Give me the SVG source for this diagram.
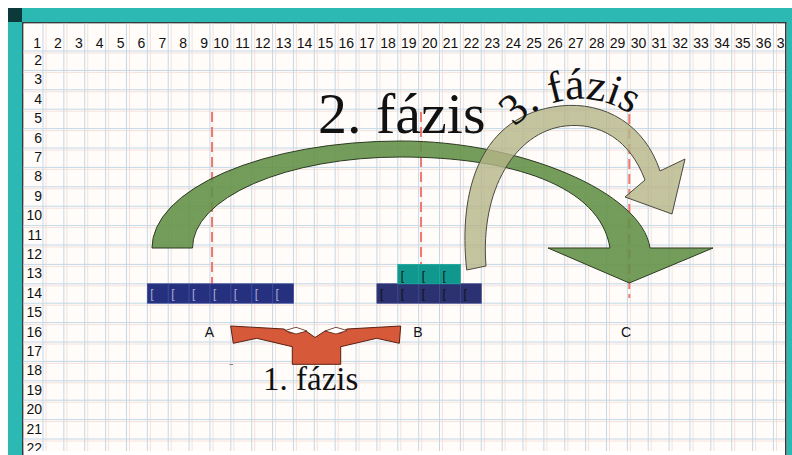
<svg xmlns="http://www.w3.org/2000/svg" width="792" height="455" viewBox="0 0 792 455">
<style>
.hdr{font-family:"Liberation Sans",Arial,sans-serif;font-size:14px;fill:#111;text-anchor:end}
.lbl{font-family:"Liberation Sans",Arial,sans-serif;font-size:14px;fill:#111;text-anchor:middle}
.brk{font-family:"Liberation Sans",Arial,sans-serif;font-size:12px}
.big{font-family:"Liberation Serif","Times New Roman",serif;fill:#111}
.dash{stroke:#ee7a70;stroke-width:2;stroke-dasharray:10 5;fill:none}
.gb{stroke:#c3d8e6;stroke-width:1;fill:none}
.gp{stroke:#f4e2da;stroke-width:1;fill:none}
</style>
<defs>
<clipPath id="sheet"><rect x="23.5" y="23.5" width="761.5" height="427.5"/></clipPath>
<path id="arc3" d="M502.9,143.5 A89,89 0 0 1 657.1,143.5"/>
</defs>
<!-- frame -->
<rect x="0" y="0" width="792" height="455" fill="#ffffff"/>
<rect x="8" y="8" width="784" height="14" fill="#2cb9b4"/>
<rect x="8" y="8" width="14" height="447" fill="#2cb9b4"/>
<rect x="786.5" y="8" width="5.5" height="447" fill="#2cb9b4"/>
<rect x="8" y="8" width="14" height="14" fill="#0c3a3a"/>
<rect x="22" y="22" width="764.5" height="1.5" fill="#3a3a3a"/>
<rect x="22" y="22" width="1.5" height="433" fill="#3a3a3a"/>
<rect x="785" y="22" width="1.5" height="433" fill="#3a3a3a"/>
<g id="grid" clip-path="url(#sheet)">
<rect x="23.5" y="23.5" width="761.5" height="427.5" fill="#fffcfa"/>
<path class="gp" d="M46,23V451M66.9,23V451M87.7,23V451M108.6,23V451M129.5,23V451M150.4,23V451M171.2,23V451M192.1,23V451M213,23V451M233.8,23V451M254.7,23V451M275.6,23V451M296.4,23V451M317.3,23V451M338.2,23V451M359,23V451M379.9,23V451M400.8,23V451M421.7,23V451M442.5,23V451M463.4,23V451M484.3,23V451M505.1,23V451M526,23V451M546.9,23V451M567.8,23V451M588.6,23V451M609.5,23V451M630.4,23V451M651.2,23V451M672.1,23V451M693,23V451M713.8,23V451M734.7,23V451M755.6,23V451M776.5,23V451"/>
<path class="gp" d="M23,53H785M23,72.4H785M23,91.8H785M23,111.2H785M23,130.6H785M23,150H785M23,169.4H785M23,188.8H785M23,208.2H785M23,227.6H785M23,247H785M23,266.4H785M23,285.8H785M23,305.2H785M23,324.6H785M23,344H785M23,363.4H785M23,382.8H785M23,402.2H785M23,421.6H785M23,441H785"/>
<path class="gb" d="M43,23V451M63.87,23V451M84.74,23V451M105.61,23V451M126.48,23V451M147.35,23V451M168.22,23V451M189.09,23V451M209.96,23V451M230.83,23V451M251.7,23V451M272.57,23V451M293.44,23V451M314.31,23V451M335.18,23V451M356.05,23V451M376.92,23V451M397.79,23V451M418.66,23V451M439.53,23V451M460.4,23V451M481.27,23V451M502.14,23V451M523.01,23V451M543.88,23V451M564.75,23V451M585.62,23V451M606.49,23V451M627.36,23V451M648.23,23V451M669.1,23V451M689.97,23V451M710.84,23V451M731.71,23V451M752.58,23V451M773.45,23V451"/>
<path class="gb" d="M23,51H785M23,70.4H785M23,89.8H785M23,109.2H785M23,128.6H785M23,148H785M23,167.4H785M23,186.8H785M23,206.2H785M23,225.6H785M23,245H785M23,264.4H785M23,283.8H785M23,303.2H785M23,322.6H785M23,342H785M23,361.4H785M23,380.8H785M23,400.2H785M23,419.6H785M23,439H785"/>
<g id="colheaders">
<text class="hdr" x="41" y="47.5">1</text><text class="hdr" x="61.87" y="47.5">2</text><text class="hdr" x="82.74" y="47.5">3</text><text class="hdr" x="103.61" y="47.5">4</text><text class="hdr" x="124.48" y="47.5">5</text><text class="hdr" x="145.35" y="47.5">6</text><text class="hdr" x="166.22" y="47.5">7</text><text class="hdr" x="187.09" y="47.5">8</text><text class="hdr" x="207.96" y="47.5">9</text><text class="hdr" x="228.83" y="47.5">10</text><text class="hdr" x="249.7" y="47.5">11</text><text class="hdr" x="270.57" y="47.5">12</text><text class="hdr" x="291.44" y="47.5">13</text><text class="hdr" x="312.31" y="47.5">14</text><text class="hdr" x="333.18" y="47.5">15</text><text class="hdr" x="354.05" y="47.5">16</text><text class="hdr" x="374.92" y="47.5">17</text><text class="hdr" x="395.79" y="47.5">18</text><text class="hdr" x="416.66" y="47.5">19</text><text class="hdr" x="437.53" y="47.5">20</text><text class="hdr" x="458.4" y="47.5">21</text><text class="hdr" x="479.27" y="47.5">22</text><text class="hdr" x="500.14" y="47.5">23</text><text class="hdr" x="521.01" y="47.5">24</text><text class="hdr" x="541.88" y="47.5">25</text><text class="hdr" x="562.75" y="47.5">26</text><text class="hdr" x="583.62" y="47.5">27</text><text class="hdr" x="604.49" y="47.5">28</text><text class="hdr" x="625.36" y="47.5">29</text><text class="hdr" x="646.23" y="47.5">30</text><text class="hdr" x="667.1" y="47.5">31</text><text class="hdr" x="687.97" y="47.5">32</text><text class="hdr" x="708.84" y="47.5">33</text><text class="hdr" x="729.71" y="47.5">34</text><text class="hdr" x="750.58" y="47.5">35</text><text class="hdr" x="771.45" y="47.5">36</text><text class="hdr" x="792.32" y="47.5">37</text>
</g>
<g id="rowheaders">
<text class="hdr" x="42" y="65">2</text><text class="hdr" x="42" y="84.4">3</text><text class="hdr" x="42" y="103.8">4</text><text class="hdr" x="42" y="123.2">5</text><text class="hdr" x="42" y="142.6">6</text><text class="hdr" x="42" y="162">7</text><text class="hdr" x="42" y="181.4">8</text><text class="hdr" x="42" y="200.8">9</text><text class="hdr" x="42" y="220.2">10</text><text class="hdr" x="42" y="239.6">11</text><text class="hdr" x="42" y="259">12</text><text class="hdr" x="42" y="278.4">13</text><text class="hdr" x="42" y="297.8">14</text><text class="hdr" x="42" y="317.2">15</text><text class="hdr" x="42" y="336.6">16</text><text class="hdr" x="42" y="356">17</text><text class="hdr" x="42" y="375.4">18</text><text class="hdr" x="42" y="394.8">19</text><text class="hdr" x="42" y="414.2">20</text><text class="hdr" x="42" y="433.6">21</text><text class="hdr" x="42" y="453">22</text>
</g>
</g>
<g id="connectors">
<path class="dash" d="M212,112V284"/>
<path class="dash" d="M421,112V264"/>
<path class="dash" d="M629.3,114V298"/>
</g>
<g id="blockA">
<rect x="147.35" y="283.8" width="146.09" height="19.4" fill="#25307e" stroke="#3c4996" stroke-width="0.8"/>
<path d="M168.22,284V303M189.09,284V303M209.96,284V303M230.83,284V303M251.7,284V303M272.57,284V303" stroke="#46549e" stroke-width="0.8"/>
<g class="brk" fill="#a9acd9"><text x="150.3" y="298">[</text><text x="171.2" y="298">[</text><text x="192.1" y="298">[</text><text x="213" y="298">[</text><text x="233.8" y="298">[</text><text x="254.7" y="298">[</text><text x="275.6" y="298">[</text></g>
</g>
<g id="blockB">
<rect x="376.92" y="283.8" width="104.35" height="19.4" fill="#2c3271" stroke="#3b4284" stroke-width="0.8"/>
<path d="M397.79,284V303M418.66,284V303M439.53,284V303M460.4,284V303" stroke="#454c8e" stroke-width="0.8"/>
<g class="brk" fill="#111"><text x="379.9" y="298">[</text><text x="400.8" y="298">[</text><text x="421.7" y="298">[</text><text x="442.5" y="298">[</text><text x="463.4" y="298">[</text></g>
</g>
<g id="blockTeal">
<rect x="397.79" y="264.4" width="62.61" height="19.4" fill="#10988e" stroke="#1aa79c" stroke-width="0.8"/>
<path d="M418.66,264.5V283.7M439.53,264.5V283.7" stroke="#27ab9f" stroke-width="0.8"/>
<g class="brk" fill="#111"><text x="400.8" y="279.5">[</text><text x="421.7" y="279.5">[</text><text x="442.5" y="279.5">[</text></g>
</g>
<g id="arrow2">
<path d="M152,248 A249,107 0 0 1 401,141 C520,141 642,192 650,248 L713,248 L629.3,283 L548,248 L610,248 C600,185 510,157 401,157 A208.5,91 0 0 0 192.5,248 Z" fill="#618f44" fill-opacity="0.88" stroke="#2d3b22" stroke-width="1"/>
</g>
<g id="arrow3">
<path d="M466.7,270 C458,190 480,115 560,106 C605,101 645,125 660,171 L685,159 L672,214 L625,197 L645,180 C630,140 600,122 565,126 C515,132 480,190 486,266 Z" fill="#b5b588" fill-opacity="0.8" stroke="#4a4a40" stroke-width="1"/>
</g>
<g id="arrow1">
<path d="M230.7,326 L284,329 L290,333 L306,331 L315,337.5 L325,331 L341,333 L347,329 L400.7,326 L399.3,343.3 L376.7,338.3 L340.7,346.7 L340.7,364.3 L292.3,364.3 L292.3,346.7 L256.7,338.3 L233.3,343.3 Z" fill="#d4502f" fill-opacity="0.95" stroke="#5a2010" stroke-width="1"/>
<path d="M285,330.5 L296,327.3 L307,331 L296,334 Z M325,331 L336,327.3 L347,330.5 L336,334 Z" fill="#ffffff" stroke="#5a2010" stroke-width="0.8"/>
<path d="M229.5,364.5H233" stroke="#888" stroke-width="1"/>
</g>
<g id="labels">
<text class="lbl" x="209.5" y="337">A</text>
<text class="lbl" x="418" y="337">B</text>
<text class="lbl" x="626" y="337">C</text>
<text class="big" x="263" y="390" font-size="33">1. fázis</text>
<text class="big" x="318" y="133" font-size="58">2. fázis</text>
<text class="big" font-size="44"><textPath href="#arc3" startOffset="20">3. fázis</textPath></text>
</g>
</svg>
